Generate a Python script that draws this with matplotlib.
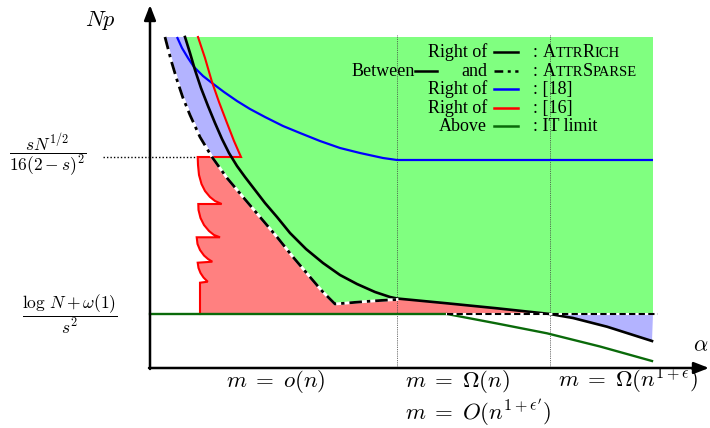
import matplotlib
matplotlib.use("Agg")
import matplotlib.pyplot as plt

plt.rcParams["font.family"] = ["Liberation Serif", "DejaVu Serif"]
plt.rcParams["mathtext.fontset"] = "cm"

# ---- curves (pixel units, y grows downward) ----
# dash-dot boundary (AttrSparse)
dd_x = [165, 171, 177, 183, 190, 200, 212, 227, 243, 260, 277, 293, 310, 322, 335,
        363, 380, 397]
dd_y = [37, 60, 80, 98, 115, 137, 157, 178, 197, 217, 237, 257, 277, 291, 304,
        301.7, 300.5, 299.5]
# solid black boundary (AttrRich)
bk_x = [185, 190, 195, 201, 208, 215, 222, 229, 237, 245, 255, 265, 277, 290, 306,
        323, 340, 357, 375, 390, 397, 447, 497, 550, 573, 607, 652]
bk_y = [37, 53, 70, 88, 106, 123, 139, 153, 166, 177, 190, 203, 217, 233, 249,
        263, 275, 284, 292, 297, 298.5, 303.3, 308.3, 314, 318, 326.7, 341]
# blue curve ([18])
bl_x = [177, 182, 188, 194, 203, 212, 224, 237, 250, 265, 283, 300, 320, 340, 360,
        383, 397, 653]
bl_y = [37, 48, 58, 67, 76, 83, 92, 101, 109, 117, 126, 133, 141, 148, 153,
        158, 160, 160]
# red curve ([16]): upper part, then the scalloped lower part
rd_up_x = [198, 205, 212, 219, 227, 234, 241]
rd_up_y = [37, 58, 82, 102, 123, 141, 157]
rd_lo_x = [197.7, 198, 199, 201.5, 205, 210, 215, 221.7,
           198.3, 198.5, 200.5, 204, 209, 214, 220,
           196.7, 197.5, 200, 204, 208, 212.3,
           197.7, 198.5, 200.5, 203.5, 207.7,
           200, 200]
rd_lo_y = [157, 165, 175, 184, 191, 197, 201, 204,
           204, 210, 218, 225, 231, 235, 237.3,
           237.3, 244, 250, 255.5, 259, 261.7,
           262.7, 268, 273, 277.5, 281.7,
           282.7, 314]
# IT limit (green)
it_x = [150, 447, 497, 547, 600, 652]
it_y = [314, 314, 323.5, 333.3, 346.5, 361]

X0, Y0 = 150, 368          # axes origin
TOP, RIGHT = 37, 653       # extent of the shaded region
Y_IT = 314                 # IT limit level
Y_SQ = 157                 # sN^{1/2} level
V1, V2 = 397, 550          # regime separators

GREEN_F, BLUE_F, RED_F = "#80ff80", "#b3b3ff", "#ff8080"
GREEN_L = "#0a6a0a"

fig = plt.figure(figsize=(7.1, 4.28), dpi=100)
ax = fig.add_axes([0, 0, 1, 1])
ax.set_xlim(0, 710)
ax.set_ylim(428, 0)
ax.axis("off")

# ---- filled regions ----
i_b397 = bk_x.index(V1)
i_b550 = bk_x.index(V2)
bk_mid_x = bk_x[i_b550:i_b397 - 1:-1]
bk_mid_y = bk_y[i_b550:i_b397 - 1:-1]

gx = [dd_x[0], RIGHT, RIGHT, V2] + bk_mid_x + dd_x[::-1]
gy = [TOP, TOP, Y_IT, Y_IT] + bk_mid_y + dd_y[::-1]
ax.fill(gx, gy, color=GREEN_F, lw=0)

i_dd157 = dd_y.index(Y_SQ)
rx = rd_lo_x + [V2] + bk_mid_x + dd_x[::-1][:len(dd_x) - i_dd157]
ry = rd_lo_y + [Y_IT] + bk_mid_y + dd_y[::-1][:len(dd_y) - i_dd157]
ax.fill(rx, ry, color=RED_F, lw=0)

# blue wedge on the upper left
i_bl212 = bl_x.index(212)
i_bk194 = 2
bux = (dd_x[:i_dd157 + 1] + rd_up_x[::-1][:5] + bl_x[i_bl212:2:-1]
       + bk_x[:i_bk194 + 1][::-1])
buy = (dd_y[:i_dd157 + 1] + rd_up_y[::-1][:5] + bl_y[i_bl212:2:-1]
       + bk_y[:i_bk194 + 1][::-1])
ax.fill(bux, buy, color=BLUE_F, lw=0)
# blue wedge on the lower right
brx = [V2, RIGHT] + bk_x[:i_b550 - 1:-1]
bry = [Y_IT, Y_IT] + bk_y[:i_b550 - 1:-1]
ax.fill(brx, bry, color=BLUE_F, lw=0)

# ---- guide lines ----
for xv in (V1, V2):
    ax.plot([xv, xv], [35, Y0], color="0.25", lw=0.6, ls=(0, (1, 1.2)))
ax.plot([103, rd_lo_x[0]], [Y_SQ, Y_SQ], color="k", lw=1.0, ls=(0, (1, 1.5)))

# ---- curves ----
ax.plot(bl_x, bl_y, color="#0000ff", lw=1.6, solid_capstyle="butt")
ax.plot(rd_up_x + [rd_lo_x[0]] + rd_lo_x, rd_up_y + [Y_SQ] + rd_lo_y,
        color="#ff0000", lw=1.5, solid_joinstyle="miter")
ax.plot(it_x, it_y, color=GREEN_L, lw=1.7)
ax.plot(bk_x, bk_y, color="k", lw=1.9)
ax.plot(dd_x, dd_y, color="white", lw=2.0)
ax.plot(dd_x, dd_y, color="k", lw=2.0, dashes=(4.5, 1.8, 1.2, 1.8))
ax.plot([447, 658], [Y_IT, Y_IT], color="white", lw=1.5)
ax.plot([447, 658], [Y_IT, Y_IT], color="k", lw=1.5, dashes=(3.0, 1.6))

# ---- axes with arrows ----
arr = dict(arrowstyle="-|>,head_length=0.9,head_width=0.35", lw=1.8, color="k",
           shrinkA=0, shrinkB=0)
ax.annotate("", xy=(X0, 5), xytext=(X0, Y0 + 1), arrowprops=arr)
ax.annotate("", xy=(709, Y0), xytext=(X0 - 1, Y0), arrowprops=arr)
ax.text(100, 20, r"$Np$", fontsize=16, ha="center", va="center")
ax.text(693, 347, r"$\alpha$", fontsize=16, ha="left", va="center")

# ---- axis labels ----
ax.text(48, Y_SQ - 2, r"$\dfrac{sN^{1/2}}{16(2-s)^2}$", fontsize=12.5,
        ha="center", va="center")
ax.text(70, Y_IT, r"$\dfrac{\log\,N+\omega(1)}{s^2}$", fontsize=12.5,
        ha="center", va="center")
ax.text(276, 387, r"$m\;=\;o(n)$", fontsize=16.5, ha="center", va="baseline")
ax.text(405, 387, r"$m\;=\;\Omega(n)$", fontsize=16.5, ha="left", va="baseline")
ax.text(405, 420, r"$m\;=\;O(n^{1+\epsilon'})$", fontsize=16.5, ha="left",
        va="baseline")
ax.text(558, 387, r"$m\;=\;\Omega(n^{1+\epsilon})$", fontsize=16.5, ha="left",
        va="baseline")

# ---- legend drawn inside the plot ----
FS = 13
renderer = fig.canvas.get_renderer()


def put(x, y, s, size):
    t = ax.text(x, y, s, fontsize=size, ha="left", va="baseline")
    return x + t.get_window_extent(renderer=renderer).width


def small_caps(x, y, pieces):
    for s, big in pieces:
        x = put(x, y, s, FS if big else FS * 0.81)
    return x


rich = [("A", True), ("TTR", False), ("R", True), ("ICH", False)]
sparse = [("A", True), ("TTR", False), ("S", True), ("PARSE", False)]
rows_y = [57, 75.5, 94, 112.5, 131]
sample = [494, 518]

ax.text(487, rows_y[0], "Right of", fontsize=FS, ha="right", va="baseline")
ax.plot(sample, [rows_y[0] - 5] * 2, color="k", lw=1.8)
small_caps(put(533, rows_y[0], ": ", FS), rows_y[0], rich)

ax.text(415, rows_y[1], "Between", fontsize=FS, ha="right", va="baseline")
ax.plot([415, 437], [rows_y[1] - 5] * 2, color="k", lw=1.8)
ax.text(487, rows_y[1], "and", fontsize=FS, ha="right", va="baseline")
ax.plot(sample, [rows_y[1] - 5] * 2, color="k", lw=1.8, dashes=(3.5, 1.8, 1.2, 1.8))
small_caps(put(533, rows_y[1], ": ", FS), rows_y[1], sparse)

for yy, name, col, ref in [(rows_y[2], "Right of", "#0000ff", ": [18]"),
                           (rows_y[3], "Right of", "#ff0000", ": [16]"),
                           (rows_y[4], "Above", GREEN_L, ": IT limit")]:
    ax.text(487, yy, name, fontsize=FS, ha="right", va="baseline")
    ax.plot(sample, [yy - 5] * 2, color=col, lw=1.8)
    put(533, yy, ref, FS)

fig.savefig("out.png", dpi=100)
